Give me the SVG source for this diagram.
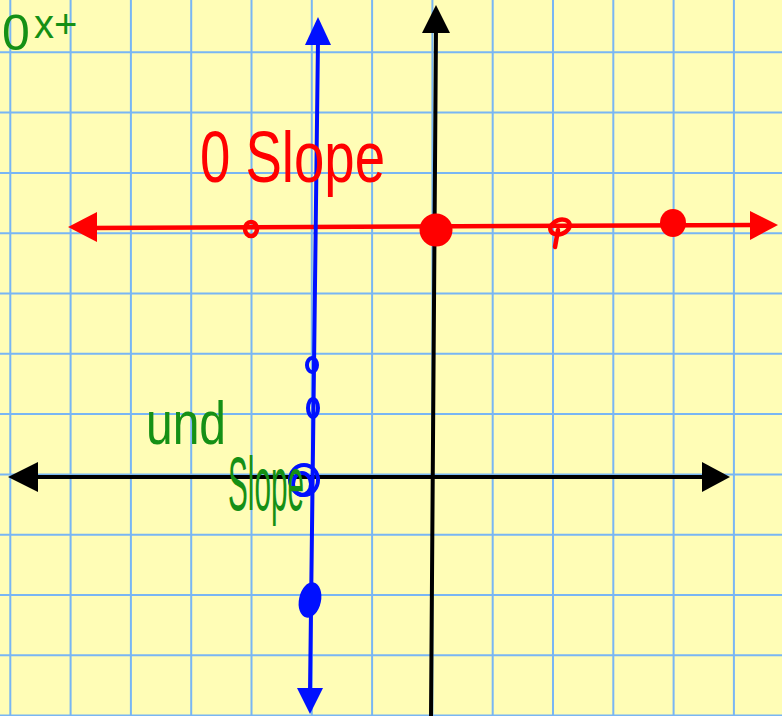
<svg xmlns="http://www.w3.org/2000/svg" width="782" height="716" viewBox="0 0 782 716">
<defs>
<style>
.grid line{stroke:#78b6f4;stroke-width:2}
.ax{stroke:#000;stroke-width:4;fill:none;stroke-linecap:round}
.red{stroke:#ff0000;fill:none;stroke-width:4.5;stroke-linecap:round}
.blue{stroke:#0010ff;fill:none;stroke-width:4;stroke-linecap:round}
.hw{font-family:"Liberation Sans Narrow","Liberation Sans",Arial,sans-serif}
.gtxt{fill:#159015}
</style>
</defs>
<rect width="782" height="716" fill="#fffdb6"/>
<g class="grid" id="grid">
<line x1="10.3" y1="0" x2="10.3" y2="716"/>
<line x1="70.6" y1="0" x2="70.6" y2="716"/>
<line x1="130.9" y1="0" x2="130.9" y2="716"/>
<line x1="191.2" y1="0" x2="191.2" y2="716"/>
<line x1="251.5" y1="0" x2="251.5" y2="716"/>
<line x1="311.8" y1="0" x2="311.8" y2="716"/>
<line x1="372.1" y1="0" x2="372.1" y2="716"/>
<line x1="432.4" y1="0" x2="432.4" y2="716"/>
<line x1="492.7" y1="0" x2="492.7" y2="716"/>
<line x1="553" y1="0" x2="553" y2="716"/>
<line x1="613.3" y1="0" x2="613.3" y2="716"/>
<line x1="673.6" y1="0" x2="673.6" y2="716"/>
<line x1="733.9" y1="0" x2="733.9" y2="716"/>
<line x1="0" y1="52.3" x2="782" y2="52.3"/>
<line x1="0" y1="112.6" x2="782" y2="112.6"/>
<line x1="0" y1="172.9" x2="782" y2="172.9"/>
<line x1="0" y1="233.2" x2="782" y2="233.2"/>
<line x1="0" y1="293.5" x2="782" y2="293.5"/>
<line x1="0" y1="353.8" x2="782" y2="353.8"/>
<line x1="0" y1="414.1" x2="782" y2="414.1"/>
<line x1="0" y1="474.4" x2="782" y2="474.4"/>
<line x1="0" y1="534.7" x2="782" y2="534.7"/>
<line x1="0" y1="595" x2="782" y2="595"/>
<line x1="0" y1="655.3" x2="782" y2="655.3"/>
<line x1="0" y1="715.6" x2="782" y2="715.6"/>
</g>
<g id="connectors">
<g id="x-axis">
<line class="ax" x1="30" y1="477" x2="708" y2="477"/>
<polygon points="8,477 38,462 38,492" fill="#000"/>
<polygon points="730,477 702,462 702,492" fill="#000"/>
</g>
<g id="y-axis">
<line class="ax" x1="436" y1="28" x2="431" y2="716"/>
<polygon points="436,5 422,33 450,33" fill="#000"/>
</g>
<g id="red-line">
<line class="red" x1="90" y1="228" x2="755" y2="225"/>
<polygon points="68,227 97,212 97,242" fill="#ff0000"/>
<polygon points="778,225 750,211 750,240" fill="#ff0000"/>
</g>
<g id="blue-line">
<line class="blue" x1="318" y1="40" x2="310" y2="692"/>
<polygon points="318,17 305,45 331,45" fill="#0010ff"/>
<polygon points="310,714 297,688 323,688" fill="#0010ff"/>
</g>
</g>
<g id="red-points">
<ellipse class="red" cx="251" cy="229" rx="6" ry="7"/>
<ellipse cx="436" cy="230" rx="15" ry="15" fill="#ff0000" stroke="#ff0000" stroke-width="3"/>
<ellipse class="red" cx="560" cy="227" rx="10" ry="7" transform="rotate(-20 560 227)"/>
<path class="red" d="M558 230 L555 247"/>
<ellipse cx="673" cy="223" rx="13" ry="14" fill="#ff0000"/>
</g>
<g id="blue-points">
<ellipse class="blue" cx="312" cy="365" rx="5" ry="7"/>
<ellipse class="blue" cx="313" cy="408" rx="5" ry="9"/>
<ellipse class="blue" cx="304" cy="480" rx="14" ry="15"/>
<ellipse class="blue" cx="302" cy="484" rx="9" ry="11"/>
<ellipse cx="310" cy="600" rx="11" ry="18" fill="#0010ff" transform="rotate(12 310 600)"/>
</g>
<g id="label-zero-slope">
<text class="hw" x="200" y="182" font-size="72" fill="#ff0000" textLength="185" lengthAdjust="spacingAndGlyphs">0 Slope</text>
</g>
<g id="label-und-slope">
<text class="hw gtxt" x="146" y="444" font-size="62" textLength="80" lengthAdjust="spacingAndGlyphs">und</text>
<text class="hw gtxt" x="228" y="510" font-size="76" textLength="76" lengthAdjust="spacingAndGlyphs">Slope</text>
</g>
<g id="label-top-left">
<text class="hw gtxt" x="2" y="50" font-size="50">0</text>
<text class="hw gtxt" x="34" y="38" font-size="40">x+</text>
</g>
</svg>
